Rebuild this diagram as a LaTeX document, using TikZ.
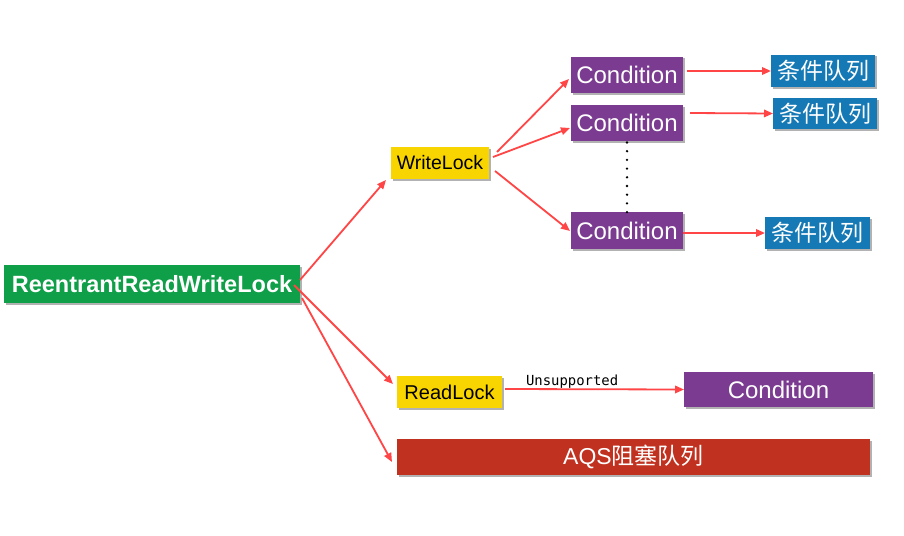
\documentclass[tikz,border=0pt]{standalone}
\usepackage{fontspec}
\setmainfont{Liberation Sans}
\newfontfamily\cjkfont{Noto Sans CJK SC}
\newfontfamily\codefont{DejaVu Sans Mono}
\usetikzlibrary{arrows.meta,shadows,calc}
\definecolor{boxgreen}{HTML}{0F9F48}
\definecolor{boxpurple}{HTML}{7A3B90}
\definecolor{boxblue}{HTML}{1479B5}
\definecolor{boxyellow}{HTML}{F8D500}
\definecolor{boxred}{HTML}{C1311F}
\definecolor{arrowred}{HTML}{FF4545}
\begin{document}
\begin{tikzpicture}[x=1pt,y=-1pt,
  box/.style={inner sep=0pt, outer sep=0pt, text=white,
    drop shadow={shadow xshift=1.5pt, shadow yshift=-1.5pt, opacity=0.3, fill=black}},
  greenbox/.style={box, fill=boxgreen, font=\bfseries\fontsize{23.5}{24}\selectfont},
  purplebox/.style={box, fill=boxpurple, font=\fontsize{24}{24}\selectfont},
  bluebox/.style={box, fill=boxblue, font=\cjkfont\fontsize{23}{24}\selectfont},
  yellowbox/.style={box, fill=boxyellow, text=black, font=\fontsize{19.5}{20}\selectfont},
  redbox/.style={box, fill=boxred, font=\fontsize{23}{24}\selectfont},
  link/.style={draw=arrowred, line width=1.8pt, -{Triangle[length=9pt,width=7.5pt]}},
  dots/.style={draw=black, line width=2.6pt, line cap=round, dash pattern=on 0pt off 8.7pt}
]
\useasboundingbox[fill=white] (0,0) rectangle (904,535);

\node[greenbox, minimum width=296pt, minimum height=38pt] (rrwl) at (152,284) {ReentrantReadWriteLock};
\node[yellowbox, minimum width=98pt, minimum height=32pt] (wl) at (440,163) {WriteLock};
\node[purplebox, minimum width=112pt, minimum height=36pt] (c1) at (627,75) {Condition};
\node[bluebox, minimum width=104pt, minimum height=32pt] (q1) at (823,71) {条件队列};
\node[purplebox, minimum width=112pt, minimum height=36pt] (c2) at (627,123) {Condition};
\node[bluebox, minimum width=104pt, minimum height=31pt] (q2) at (825,113.5) {条件队列};
\node[purplebox, minimum width=112pt, minimum height=37pt] (c3) at (627,230.5) {Condition};
\node[bluebox, minimum width=105pt, minimum height=32pt] (q3) at (817.5,233) {条件队列};
\node[yellowbox, minimum width=105pt, minimum height=32pt, font=\fontsize{20}{20}\selectfont] (rl) at (449.5,392) {ReadLock};
\node[purplebox, minimum width=189pt, minimum height=35pt] (rc) at (778.5,389.5) {Condition};
\node[redbox, minimum width=473pt, minimum height=36pt] (aqs) at (633.5,457) {AQS{\cjkfont 阻塞队列}};

% from ReentrantReadWriteLock
\draw[link] ($(rrwl.east)+(0,-4)$) -- ($(wl.south west)+(-5,1)$);
\draw[link] ($(rrwl.east)+(-6,1)$) -- ($(rl.west)+(-4,-8)$);
\draw[link] ($(rrwl.east)+(2,14)$) -- ($(aqs.west)+(-5,5)$);

% from WriteLock
\draw[link] ($(wl.east)+(8,-11)$) -- ($(c1.west)+(-2,4)$);
\draw[link] ($(wl.east)+(4,-6)$) -- ($(c2.west)+(-1,5)$);
\draw[link] ($(wl.east)+(6,8)$) -- ($(c3.west)+(-1,0.5)$);

% conditions to queues
\draw[link] ($(c1.east)+(4,-4)$) -- (q1.west);
\draw[link] ($(c2.east)+(7,-10)$) -- (q2.west);
\draw[link] ($(c3.east)+(0,2.5)$) -- (q3.west);

% ReadLock to Condition
\draw[link] ($(rl.east)+(3,-3)$) -- node[pos=0.375, anchor=base, yshift=4pt, inner sep=0pt, text=black, font=\codefont\fontsize{13.9}{14}\selectfont] (uns) {Unsupported} (rc.west);

% dotted line between conditions
\draw[dots] ($(c2.south)+(0,1.5)$) -- ($(c3.north)+(0,3)$);
\end{tikzpicture}
\end{document}
